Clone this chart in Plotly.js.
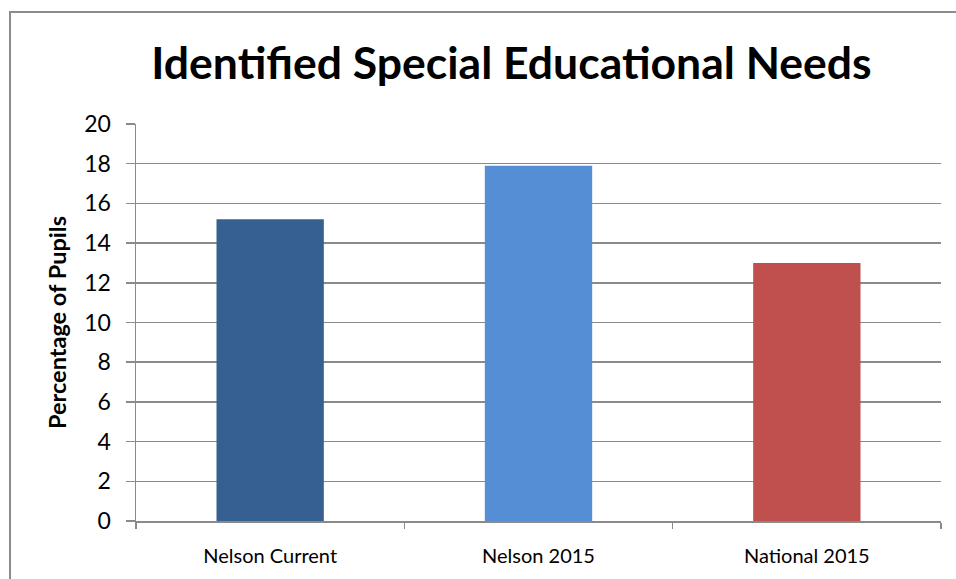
<!DOCTYPE html>
<html>
<head>
<meta charset="utf-8">
<script src="https://cdn.plot.ly/plotly-3.0.1.min.js"></script>
<style>
  html, body { margin: 0; padding: 0; background: #ffffff; overflow: hidden; }
  #wrap { position: relative; width: 956px; height: 579px; }
  #frame { position: absolute; left: 9px; top: 11px; width: 980px; height: 600px; border: 2px solid #8c8c8c; box-sizing: border-box; }
  #chart { position: absolute; left: 0; top: 0; width: 956px; height: 579px; }
</style>
</head>
<body>
<div id="wrap">
  <div id="frame"></div>
  <div id="chart"></div>
</div>
<script>
const categories = ["Nelson Current", "Nelson 2015", "National 2015"];
const values = [15.2, 17.9, 13.0];
const barColors = ["#376092", "#558ed5", "#c0504d"];
const yTicks = [0, 2, 4, 6, 8, 10, 12, 14, 16, 18, 20];

const FONT = "Lato, 'Open Sans', sans-serif";

const trace = {
  type: "bar",
  x: categories,
  y: values,
  marker: { color: barColors, line: { width: 0 } },
  width: 0.4,
  hoverinfo: "x+y"
};

const layout = {
  width: 956,
  height: 579,
  margin: { l: 136, r: 15, t: 124, b: 58 },
  paper_bgcolor: "rgba(0,0,0,0)",
  plot_bgcolor: "rgba(0,0,0,0)",
  showlegend: false,
  font: { family: FONT, color: "#000000" },
  title: {
    text: "<b>Identified Special Educational Needs</b>",
    font: { family: FONT, size: 44.5, color: "#000000" },
    x: 0.535, xref: "container", xanchor: "center",
    y: 0.89, yref: "container", yanchor: "middle"
  },
  xaxis: {
    type: "category",
    showgrid: false,
    showline: true,
    linecolor: "#8a8a8a",
    linewidth: 1.5,
    ticks: "outside",
    tickson: "boundaries",
    ticklen: 6,
    tickwidth: 1.5,
    tickcolor: "#8a8a8a",
    tickfont: { family: FONT, size: 20, color: "#000000" },
    ticklabelstandoff: 16,
    zeroline: false,
    fixedrange: true
  },
  yaxis: {
    range: [0, 20],
    tickvals: yTicks,
    ticktext: yTicks.map(String),
    showgrid: true,
    gridcolor: "#8a8a8a",
    gridwidth: 1.5,
    showline: true,
    linecolor: "#8a8a8a",
    linewidth: 1.5,
    ticks: "outside",
    ticklen: 9,
    tickwidth: 1.5,
    tickcolor: "#8a8a8a",
    tickfont: { family: FONT, size: 23, color: "#000000" },
    ticklabelstandoff: 10,
    zeroline: false,
    title: {
      text: "<b>Percentage of Pupils</b>",
      font: { family: FONT, size: 23.5, color: "#000000" },
      standoff: 11
    },
    fixedrange: true
  },
  bargap: 0.6
};

Plotly.newPlot("chart", [trace], layout, { displayModeBar: false, staticPlot: true });
</script>
</body>
</html>
